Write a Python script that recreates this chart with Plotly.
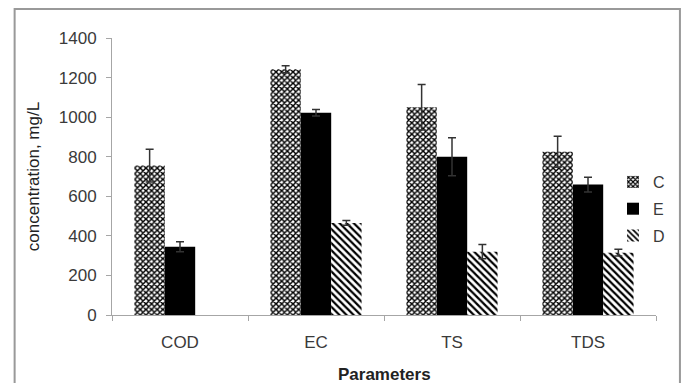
import plotly.graph_objects as go

categories = ["COD", "EC", "TS", "TDS"]
series_names = ["C", "E", "D"]
values_C = [755, 1242, 1050, 825]
values_E = [345, 1022, 800, 659]
values_D = [None, 465, 320, 315]
err_C = [83, 18, 115, 78]
err_E = [25, 16, 96, 37]
err_D = [None, 12, 36, 17]
y_ticks = [0, 200, 400, 600, 800, 1000, 1200, 1400]

FONT = "Liberation Sans, Arial, sans-serif"
TXT = "#3a3a3a"
AX = "#a6a6a6"

patterns = [
    dict(shape="x", size=4, solidity=0.6, fgcolor="black", bgcolor="white", fillmode="replace"),
    dict(shape="", fgcolor="black", bgcolor="black"),
    dict(shape="\\", size=5, solidity=0.45, fgcolor="black", bgcolor="white", fillmode="replace"),
]
vals = [values_C, values_E, values_D]
errs = [err_C, err_E, err_D]

fig = go.Figure()
for i, name in enumerate(series_names):
    fig.add_trace(go.Bar(
        x=categories, y=vals[i], name=name,
        legendgroup=name,
        marker=dict(color="black" if name == "E" else "white",
                    pattern=patterns[i],
                    line=dict(width=0)),
        error_y=dict(type="data", array=errs[i], visible=True,
                     color="#333333", thickness=1.5, width=4),
    ))

fig.update_layout(
    width=686, height=383,
    margin=dict(l=112, r=30, t=38, b=68, autoexpand=False),
    paper_bgcolor="white", plot_bgcolor="white",
    barmode="group", bargap=0.33, bargroupgap=0,
    font=dict(family=FONT, size=16, color=TXT),
    showlegend=True,
    legend=dict(x=0.921, y=0.5415, xanchor="left", yanchor="top",
                bgcolor="rgba(0,0,0,0)", font=dict(size=16, color=TXT),
                tracegroupgap=3, itemwidth=30),
    xaxis=dict(
        automargin=False,
        showline=True, linecolor=AX, linewidth=1,
        ticks="outside", ticklen=5, tickcolor=AX, tickson="boundaries",
        tickfont=dict(size=17, color=TXT),
        ticklabelstandoff=12,
        showgrid=False,
    ),
    yaxis=dict(
        automargin=False,
        range=[0, 1400], tickvals=y_ticks,
        showline=True, linecolor=AX, linewidth=1,
        ticks="outside", ticklen=5, tickcolor=AX,
        tickfont=dict(size=17, color=TXT),
        ticklabelstandoff=6,
        title=dict(text="concentration, mg/L", font=dict(size=17, color="#222222"), standoff=14),
        showgrid=False, zeroline=False,
    ),
)

fig.add_annotation(text="<b>Parameters</b>", xref="paper", yref="paper",
                   x=0.5, y=-0.213, xanchor="center", yanchor="middle",
                   showarrow=False, font=dict(size=17, color="#222222"))

fig.add_shape(type="rect", xref="paper", yref="paper",
              x0=-0.179, x1=1.044, y0=-0.35, y1=1.105,
              line=dict(color="#999999", width=2), fillcolor="rgba(0,0,0,0)", layer="below")

fig.write_html("out.html", config={"displayModeBar": False},
               post_script="document.body.style.margin='0';")
